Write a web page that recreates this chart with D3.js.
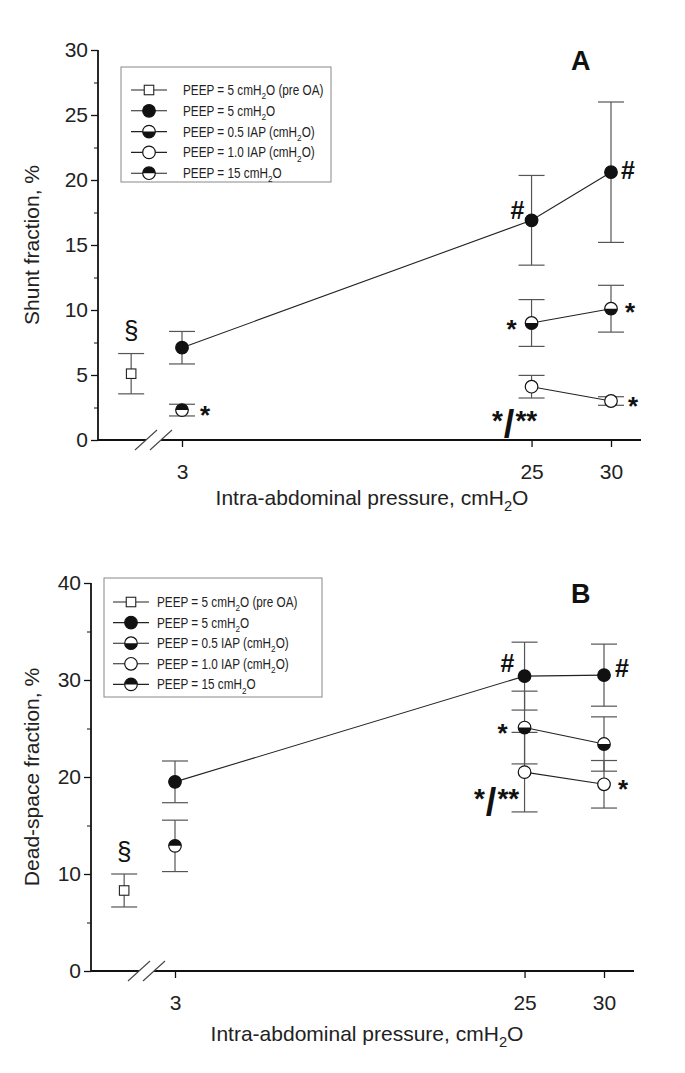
<!DOCTYPE html>
<html>
<head>
<meta charset="utf-8">
<script src="https://cdn.jsdelivr.net/npm/d3@7/dist/d3.min.js"></script>
<style>
  html, body { margin: 0; padding: 0; background: #fff; }
  svg { display: block; font-family: "Liberation Sans", Arial, sans-serif; }
</style>
</head>
<body>
<svg id="chart" width="685" height="1073"></svg>
<script>
// ---------------- DATA ----------------
const iapLevels = [3, 25, 30];          // intra-abdominal pressure, cmH2O
const xTickValues = [3, 25, 30];
const preOAPosition = -0.2;             // plotted left of the axis break

const legendLabels = [
  ["PEEP = 5 cmH", "2", "O (pre OA)"],
  ["PEEP = 5 cmH", "2", "O"],
  ["PEEP = 0.5 IAP (cmH", "2", "O)"],
  ["PEEP = 1.0 IAP (cmH", "2", "O)"],
  ["PEEP = 15 cmH", "2", "O"]
];
const legendSymbols = ["square", "filled", "halfBottom", "open", "halfTop"];

// Panel A - shunt fraction, %
const shuntTicks = [0, 5, 10, 15, 20, 25, 30];
const shuntMinorTicks = [2.5, 7.5, 12.5, 17.5, 22.5, 27.5];
const shuntPreOA = [5.1];        const shuntPreOAErr = [1.55];
const shuntPeep5 = [7.1, 16.9, 20.6];   const shuntPeep5Err = [1.25, 3.45, 5.4];
const shuntHalfIAP = [null, 9.0, 10.1]; const shuntHalfIAPErr = [null, 1.8, 1.8];
const shuntFullIAP = [null, 4.1, 3.0];  const shuntFullIAPErr = [null, 0.87, 0.33];
const shuntPeep15 = [2.3, null, null];  const shuntPeep15Err = [0.45, null, null];

// Panel B - dead-space fraction, %
const deadTicks = [0, 10, 20, 30, 40];
const deadMinorTicks = [5, 15, 25, 35];
const deadPreOA = [8.3];         const deadPreOAErr = [1.7];
const deadPeep5 = [19.5, 30.4, 30.5];   const deadPeep5Err = [2.15, 3.5, 3.2];
const deadHalfIAP = [null, 25.1, 23.4]; const deadHalfIAPErr = [null, 3.75, 2.8];
const deadFullIAP = [null, 20.5, 19.25];const deadFullIAPErr = [null, 4.1, 2.45];
const deadPeep15 = [12.9, null, null];  const deadPeep15Err = [2.65, null, null];

// ---------------- DRAWING ----------------
const svg = d3.select("#chart");
const FONT = '"Liberation Sans", Arial, sans-serif';
const ERR_COLOR = "#555";
const TICK_FONT = 21, TITLE_FONT = 21;

function drawMarker(g, type, cx, cy) {
  const r = 6.3;
  const m = g.append("g").attr("transform", `translate(${cx},${cy})`);
  if (type === "square") {
    const s = 9.5;
    m.append("rect").attr("x", -s/2).attr("y", -s/2).attr("width", s).attr("height", s)
      .attr("fill", "#fff").attr("stroke", "#222").attr("stroke-width", 1.1);
    return;
  }
  m.append("circle").attr("r", r)
    .attr("fill", type === "filled" ? "#111" : "#fff")
    .attr("stroke", "#111").attr("stroke-width", 1.2);
  if (type === "halfTop") {
    m.append("path").attr("d", `M${-r},0 A${r},${r} 0 0 1 ${r},0 Z`).attr("fill", "#111");
  } else if (type === "halfBottom") {
    m.append("path").attr("d", `M${-r},0 A${r},${r} 0 0 0 ${r},0 Z`).attr("fill", "#111");
  }
}

function addSubText(sel, parts, size) {
  sel.append("tspan").text(parts[0]);
  sel.append("tspan").attr("font-size", size * 0.7).attr("dy", size * 0.3).text(parts[1]);
  sel.append("tspan").attr("dy", -size * 0.3).text(parts[2]);
}

// vertical offset (in em) from visual centre to baseline for annotation glyphs
const glyphCentre = { "#": 0.34, "*": 0.56, "§": 0.27 };

function drawPanel(cfg) {
  const g = svg.append("g");
  const x = d3.scaleLinear().domain([3, 30]).range(cfg.xRange);
  const y = d3.scaleLinear().domain(cfg.yDomain).range(cfg.yRange);
  const x0 = cfg.axisLeft, x1 = cfg.axisRight;
  const yBase = y(0), yTop = y(cfg.yDomain[1]);

  // y axis ticks
  const yAxis = g.append("g").attr("transform", `translate(${x0},0)`)
    .call(d3.axisLeft(y).tickValues(cfg.yTicks).tickSize(7).tickPadding(3).tickFormat(d3.format("d")));
  yAxis.select(".domain").remove();
  yAxis.selectAll(".tick line").attr("stroke", "#111").attr("stroke-width", 1.3);
  yAxis.selectAll("text").attr("font-size", TICK_FONT).attr("fill", "#222").attr("font-family", FONT);
  const yMinor = g.append("g").attr("transform", `translate(${x0},0)`)
    .call(d3.axisLeft(y).tickValues(cfg.yMinor).tickSize(4).tickFormat(""));
  yMinor.select(".domain").remove();
  yMinor.selectAll(".tick line").attr("stroke", "#111").attr("stroke-width", 1);

  // x axis ticks
  const xAxis = g.append("g").attr("transform", `translate(0,${yBase})`)
    .call(d3.axisBottom(x).tickValues(xTickValues).tickSize(7).tickPadding(17).tickFormat(d3.format("d")));
  xAxis.select(".domain").remove();
  xAxis.selectAll(".tick line").attr("stroke", "#111").attr("stroke-width", 1.3);
  xAxis.selectAll("text").attr("font-size", TICK_FONT).attr("fill", "#222").attr("font-family", FONT);

  // axis lines with break
  g.append("line").attr("x1", x0).attr("x2", x0).attr("y1", yTop).attr("y2", yBase + 0.8)
    .attr("stroke", "#111").attr("stroke-width", 1.8);
  const b1 = cfg.break1, b2 = cfg.break2;
  g.append("line").attr("x1", x0).attr("x2", b1).attr("y1", yBase).attr("y2", yBase)
    .attr("stroke", "#111").attr("stroke-width", 1.8);
  g.append("line").attr("x1", b2).attr("x2", x1).attr("y1", yBase).attr("y2", yBase)
    .attr("stroke", "#111").attr("stroke-width", 1.8);
  [b1, b2].forEach(bx => {
    g.append("line").attr("x1", bx - 11).attr("y1", yBase + 10).attr("x2", bx + 11).attr("y2", yBase - 10)
      .attr("stroke", "#444").attr("stroke-width", 1.1);
  });

  // series
  const series = [
    { vals: cfg.peep5, err: cfg.peep5Err, type: "filled" },
    { vals: cfg.half, err: cfg.halfErr, type: "halfBottom" },
    { vals: cfg.full, err: cfg.fullErr, type: "open" },
    { vals: cfg.p15, err: cfg.p15Err, type: "halfTop" }
  ];
  const capW = 13;
  const pts = s => iapLevels.map((lv, i) => ({ x: lv, v: s.vals[i], e: s.err[i] })).filter(d => d.v != null);

  const drawErr = (px, v, e) => {
    g.append("line").attr("x1", px).attr("x2", px).attr("y1", y(v - e)).attr("y2", y(v + e))
      .attr("stroke", ERR_COLOR).attr("stroke-width", 1.2);
    [v - e, v + e].forEach(w => g.append("line").attr("x1", px - capW).attr("x2", px + capW)
      .attr("y1", y(w)).attr("y2", y(w)).attr("stroke", ERR_COLOR).attr("stroke-width", 1.2));
  };
  drawErr(x(preOAPosition), cfg.pre[0], cfg.preErr[0]);
  series.forEach(s => pts(s).forEach(d => drawErr(x(d.x), d.v, d.e)));

  const line = d3.line().x(d => x(d.x)).y(d => y(d.v));
  series.forEach(s => {
    const p = pts(s);
    if (p.length > 1) g.append("path").attr("d", line(p)).attr("fill", "none")
      .attr("stroke", "#222").attr("stroke-width", 1.1);
  });

  drawMarker(g, "square", x(preOAPosition), y(cfg.pre[0]));
  series.forEach(s => pts(s).forEach(d => drawMarker(g, s.type, x(d.x), y(d.v))));

  // annotations (dx, dy = offset of glyph's visual centre from the data point)
  cfg.notes.forEach(n => {
    const size = n.size || 26;
    g.append("text").attr("x", x(n.at) + n.dx)
      .attr("y", y(n.v) + n.dy + glyphCentre[n.t] * size)
      .attr("text-anchor", "middle")
      .attr("font-size", size).attr("font-weight", n.t === "§" ? "normal" : "bold")
      .attr("font-family", FONT).attr("fill", "#111").text(n.t);
  });
  // "*/**"
  const S = cfg.slash;
  const sl = g.append("text").attr("x", x(25) + S.dx).attr("y", y(S.v) + S.dy)
    .attr("text-anchor", "middle").attr("font-family", FONT).attr("fill", "#111").attr("font-weight", "bold");
  sl.append("tspan").attr("font-size", 28).text("*");
  sl.append("tspan").attr("font-size", 38).attr("dy", 7).attr("dx", 1).text("/");
  sl.append("tspan").attr("font-size", 28).attr("dy", -7).attr("dx", 1).text("**");

  // panel letter
  g.append("text").attr("x", cfg.letterX).attr("y", cfg.letterY).attr("font-size", 27)
    .attr("font-weight", "bold").attr("font-family", FONT).attr("fill", "#111").text(cfg.letter);

  // axis titles
  g.append("text").attr("transform", `translate(${cfg.yTitleX},${(yTop + yBase) / 2}) rotate(-90)`)
    .attr("text-anchor", "middle").attr("dominant-baseline", "central").attr("font-size", TITLE_FONT)
    .attr("font-family", FONT).attr("fill", "#222").text(cfg.yTitle);
  const xt = g.append("text").attr("x", cfg.xTitleX).attr("y", cfg.xTitleY).attr("text-anchor", "middle")
    .attr("font-size", TITLE_FONT).attr("font-family", FONT).attr("fill", "#222");
  addSubText(xt, ["Intra-abdominal pressure, cmH", "2", "O"], TITLE_FONT);

  // legend
  const L = cfg.legend;
  g.append("rect").attr("x", L.x).attr("y", L.y).attr("width", L.w).attr("height", L.h)
    .attr("fill", "#fff").attr("stroke", "#888").attr("stroke-width", 1);
  legendLabels.forEach((lab, i) => {
    const ly = L.firstY + i * L.step;
    g.append("line").attr("x1", L.lineX1).attr("x2", L.lineX2).attr("y1", ly).attr("y2", ly)
      .attr("stroke", "#222").attr("stroke-width", 1.1);
    drawMarker(g, legendSymbols[i], (L.lineX1 + L.lineX2) / 2, ly);
    const t = g.append("text").attr("transform", `translate(${L.textX},${ly + 5}) scale(0.84,1)`)
      .attr("font-size", 14).attr("font-family", FONT).attr("fill", "#222");
    addSubText(t, lab, 14);
  });
}

drawPanel({
  xRange: [182, 611], yDomain: [0, 30], yRange: [440, 50],
  axisLeft: 98, axisRight: 641, break1: 146, break2: 161,
  yTicks: shuntTicks, yMinor: shuntMinorTicks,
  pre: shuntPreOA, preErr: shuntPreOAErr,
  peep5: shuntPeep5, peep5Err: shuntPeep5Err,
  half: shuntHalfIAP, halfErr: shuntHalfIAPErr,
  full: shuntFullIAP, fullErr: shuntFullIAPErr,
  p15: shuntPeep15, p15Err: shuntPeep15Err,
  notes: [
    { t: "§", at: preOAPosition, v: shuntPreOA[0], dx: 0, dy: -42 },
    { t: "*", at: 3, v: shuntPeep15[0], dx: 23, dy: -1 },
    { t: "#", at: 25, v: shuntPeep5[1], dx: -14, dy: -10, size: 25 },
    { t: "#", at: 30, v: shuntPeep5[2], dx: 17, dy: -2, size: 25 },
    { t: "*", at: 25, v: shuntHalfIAP[1], dx: -20, dy: 0 },
    { t: "*", at: 30, v: shuntHalfIAP[2], dx: 19, dy: -2 },
    { t: "*", at: 30, v: shuntFullIAP[2], dx: 22, dy: -1 }
  ],
  slash: { v: shuntFullIAP[1], dx: -17, dy: 43 },
  letter: "A", letterX: 571, letterY: 70,
  yTitle: "Shunt fraction, %", yTitleX: 31,
  xTitleX: 372, xTitleY: 505,
  legend: { x: 121, y: 67, w: 210, h: 115, firstY: 90, step: 20.8, lineX1: 131, lineX2: 167, textX: 183 }
});

drawPanel({
  xRange: [175, 604], yDomain: [0, 40], yRange: [971, 583],
  axisLeft: 91, axisRight: 634, break1: 139, break2: 154,
  yTicks: deadTicks, yMinor: deadMinorTicks,
  pre: deadPreOA, preErr: deadPreOAErr,
  peep5: deadPeep5, peep5Err: deadPeep5Err,
  half: deadHalfIAP, halfErr: deadHalfIAPErr,
  full: deadFullIAP, fullErr: deadFullIAPErr,
  p15: deadPeep15, p15Err: deadPeep15Err,
  notes: [
    { t: "§", at: preOAPosition, v: deadPreOA[0], dx: 0, dy: -38 },
    { t: "#", at: 25, v: deadPeep5[1], dx: -17, dy: -13, size: 25 },
    { t: "#", at: 30, v: deadPeep5[2], dx: 18, dy: -7, size: 25 },
    { t: "*", at: 25, v: deadHalfIAP[1], dx: -22, dy: 0 },
    { t: "*", at: 30, v: deadFullIAP[2], dx: 19, dy: -1 }
  ],
  slash: { v: deadFullIAP[1], dx: -28, dy: 36 },
  letter: "B", letterX: 571, letterY: 603,
  yTitle: "Dead-space fraction, %", yTitleX: 31,
  xTitleX: 367, xTitleY: 1041,
  legend: { x: 104, y: 578, w: 218, h: 119, firstY: 602, step: 20.6, lineX1: 113, lineX2: 149, textX: 157 }
});
</script>
</body>
</html>
